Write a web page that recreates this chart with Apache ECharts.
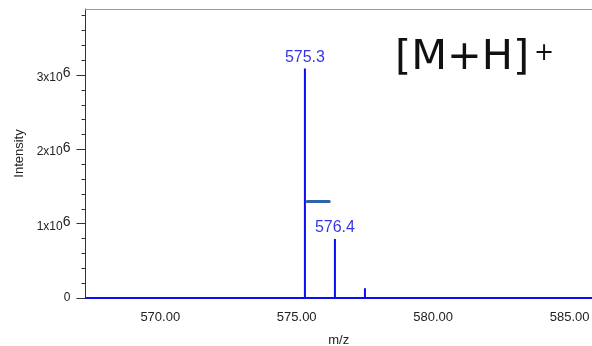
<!DOCTYPE html>
<html>
<head>
<meta charset="utf-8">
<script src="https://cdn.jsdelivr.net/npm/echarts@6/dist/echarts.min.js"></script>
<style>
  html, body { margin: 0; padding: 0; background: #fff; }
  #chart { width: 592px; height: 346px; }
</style>
</head>
<body>
<div id="chart"></div>
<script>
// Centroided peaks of the mass spectrum (m/z, intensity)
const peakMz = [570.9, 575.3, 576.4, 577.5, 578.66];
const peakIntensity = [0.02e6, 3.09e6, 0.794e6, 0.13e6, 0.02e6];
// Peaks that carry an m/z label
const labelledMz = [575.3, 576.4];
const labelledIntensity = [3.09e6, 0.794e6];
// Short horizontal marker drawn beside the base peak
const markerMz = [575.38, 576.19];
const markerIntensity = [1.3e6, 1.3e6];
// Axis ranges and tick values
const mzRange = [567.26, 585.82];
const intensityRange = [0, 3.89e6];
const mzTicks = [570, 575, 580, 585];
const intensityTicks = [0, 1e6, 2e6, 3e6];
const intensityMinorTicks = [0.2e6, 0.4e6, 0.6e6, 0.8e6, 1.2e6, 1.4e6, 1.6e6, 1.8e6,
  2.2e6, 2.4e6, 2.6e6, 2.8e6, 3.2e6, 3.4e6, 3.6e6, 3.8e6];

// Stick spectrum: baseline with a vertical stroke up to each peak
const spectrum = [[mzRange[0], 0]];
peakMz.forEach((mz, i) => {
  spectrum.push([mz, 0], [mz, peakIntensity[i]], [mz, 0]);
});
spectrum.push([mzRange[1], 0]);

const BLUE = '#0c0cf0';
const LABEL_BLUE = '#0000dd';
const TEXT = '#222';
const FONT = 'Liberation Sans, Arial, sans-serif';

const chart = echarts.init(document.getElementById('chart'), null, { renderer: 'canvas' });
chart.setOption({
  animation: false,
  backgroundColor: '#fff',
  grid: { left: 85.5, top: 9, right: 0, bottom: 48, containLabel: false, outerBoundsMode: 'none' },
  xAxis: [{
    type: 'value',
    min: mzRange[0], max: mzRange[1],
    name: 'm/z', nameLocation: 'middle', nameGap: 36,
    nameTextStyle: { color: TEXT, fontSize: 13, fontFamily: FONT },
    axisLine: { show: true, onZero: false, lineStyle: { color: '#222', width: 1 } },
    axisTick: { show: false },
    splitLine: { show: false },
    axisLabel: {
      customValues: mzTicks, margin: 13,
      color: TEXT, fontSize: 13, fontFamily: FONT,
      formatter: v => v.toFixed(2)
    }
  }, {
    // top frame line
    type: 'value', position: 'top',
    min: mzRange[0], max: mzRange[1],
    axisLine: { show: true, onZero: false, lineStyle: { color: '#999', width: 1 } },
    axisTick: { show: false }, axisLabel: { show: false }, splitLine: { show: false }
  }],
  yAxis: [{
    type: 'value',
    min: intensityRange[0], max: intensityRange[1],
    name: 'Intensity', nameLocation: 'middle', nameGap: 60,
    nameTextStyle: { color: TEXT, fontSize: 13, fontFamily: FONT },
    axisLine: { show: true, onZero: false, lineStyle: { color: '#333', width: 1 } },
    axisTick: { show: true, customValues: intensityTicks, length: 9, lineStyle: { color: '#333' } },
    splitLine: { show: false },
    axisLabel: {
      customValues: intensityTicks, margin: 15,
      color: TEXT, fontSize: 12, fontFamily: FONT,
      formatter: v => v === 0 ? '0' : '{b|' + Math.round(v / 1e6) + 'x10}{s|6}',
      rich: {
        b: { fontSize: 12, fontFamily: FONT, color: TEXT, verticalAlign: 'middle', lineHeight: 12, padding: [5, 0, 0, 0] },
        s: { fontSize: 14, fontFamily: FONT, color: TEXT, verticalAlign: 'middle', lineHeight: 14, padding: [0, 0, 3, 0] }
      }
    }
  }, {
    // minor ticks
    type: 'value',
    min: intensityRange[0], max: intensityRange[1],
    position: 'left',
    axisLine: { show: false, onZero: false },
    axisTick: { show: true, customValues: intensityMinorTicks, length: 4, lineStyle: { color: '#333' } },
    axisLabel: { show: false },
    splitLine: { show: false }
  }],
  series: [{
    type: 'line',
    data: spectrum,
    symbol: 'none',
    lineStyle: { color: BLUE, width: 2 },
    z: 3
  }, {
    type: 'scatter',
    data: labelledMz.map((mz, i) => [mz, labelledIntensity[i]]),
    symbolSize: 0,
    label: {
      show: true, position: 'top', distance: 3,
      color: LABEL_BLUE, fontSize: 16, fontFamily: FONT,
      formatter: p => p.value[0].toFixed(1)
    },
    z: 4
  }, {
    type: 'line',
    data: markerMz.map((mz, i) => [mz, markerIntensity[i]]),
    symbol: 'none',
    lineStyle: { color: '#2f62ad', width: 3, cap: 'round' },
    z: 4
  }],
  graphic: [{
    type: 'text', x: 395, y: 58,
    style: { text: '[M+H]', fontSize: 41.5, fontFamily: 'DejaVu Sans', fill: '#111', verticalAlign: 'middle', align: 'left' }
  }, {
    type: 'text', x: 544, y: 54,
    style: { text: '+', fontSize: 24, fontFamily: 'DejaVu Sans', fill: '#111', verticalAlign: 'middle', align: 'center' }
  }]
});
</script>
</body>
</html>
